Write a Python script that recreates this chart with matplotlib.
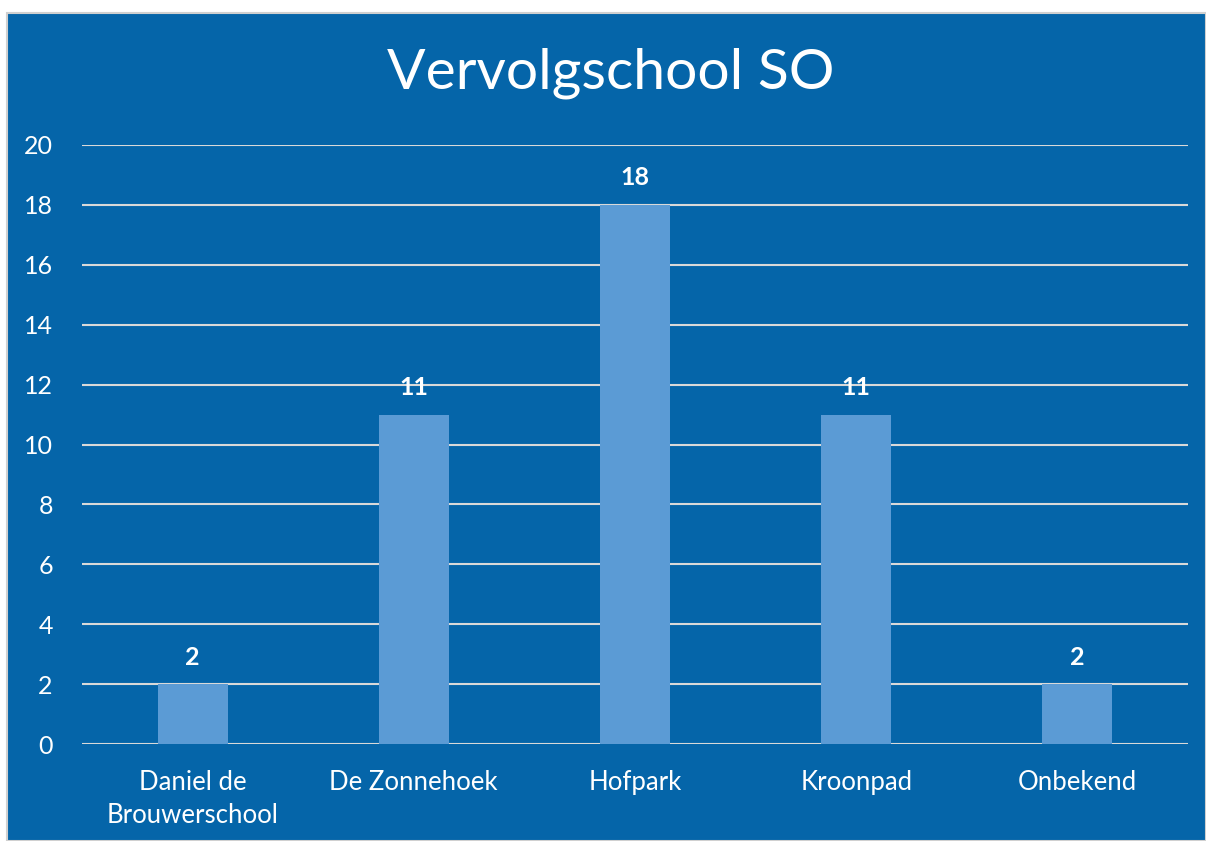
import matplotlib.pyplot as plt
import matplotlib.patches as mpatches

categories = ['Daniel de\nBrouwerschool', 'De Zonnehoek', 'Hofpark', 'Kroonpad', 'Onbekend']
values = [2, 11, 18, 11, 2]
yticks = [0, 2, 4, 6, 8, 10, 12, 14, 16, 18, 20]

bg = '#0565A9'
bar_color = '#5B9BD5'
grid_color = '#D9D9D9'

plt.rcParams['font.family'] = ['Lato', 'DejaVu Sans']

fig = plt.figure(figsize=(12.06, 8.41), dpi=100)
fig.patch.set_facecolor('white')

# blue chart area with light border, like the office chart
frame = mpatches.Rectangle((7 / 1206, 0), 1 - 7 / 1206, 1 - 13 / 841,
                           transform=fig.transFigure, facecolor=bg,
                           edgecolor='#D0D0D0', linewidth=1.5, zorder=-5)
fig.patches.append(frame)

ax = fig.add_axes([82 / 1206, 1 - 744 / 841, (1188 - 82) / 1206, (744 - 145) / 841])
ax.set_zorder(2)
ax.patch.set_alpha(0)

x = range(len(categories))
bars = ax.bar(x, values, width=0.316, color=bar_color, zorder=3)

for b, v in zip(bars, values):
    ax.annotate(str(v), (b.get_x() + b.get_width() / 2, v), xytext=(0, 14),
                textcoords='offset points', ha='center', va='baseline',
                color='white', fontsize=18, fontweight='bold')

ax.set_xlim(-0.5, len(categories) - 0.5)
ax.set_ylim(0, 20)
ax.set_yticks(yticks)
ax.set_xticks(list(x))
ax.set_xticklabels(categories, color='white', fontsize=18.5, linespacing=1.4)
ax.tick_params(axis='y', colors='white', labelsize=18, length=0, pad=21)
ax.tick_params(axis='x', length=0, pad=19)
ax.grid(axis='y', color=grid_color, linewidth=1.5, zorder=0)
for s in ax.spines.values():
    s.set_visible(False)

fig.text(611 / 1206, 1 - 73 / 841, 'Vervolgschool SO', ha='center', va='center',
         color='white', fontsize=41, zorder=3)

fig.savefig('out.png', dpi=100, facecolor=fig.get_facecolor())
